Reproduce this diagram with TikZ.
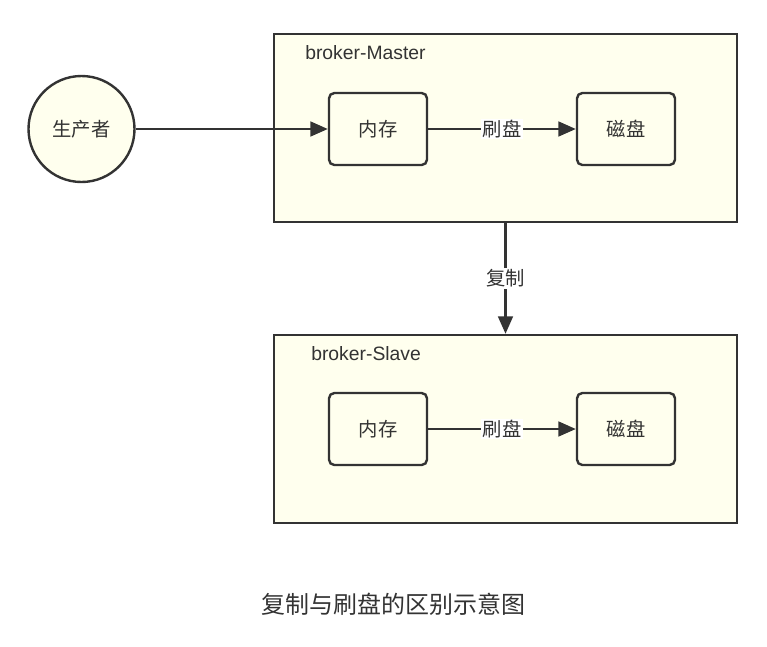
\documentclass[tikz,border=0pt]{standalone}
\usepackage{fontspec}
\setmainfont{Liberation Sans}
\newfontfamily\cjk{Noto Sans CJK SC}
\usetikzlibrary{arrows.meta}
\definecolor{paper}{HTML}{FFFFEE}
\definecolor{ink}{HTML}{333333}

\begin{document}
\begin{tikzpicture}[x=0.75pt, y=-0.75pt,
        box/.style={draw=ink, fill=paper, line width=1.8pt, minimum width=347pt, minimum height=141pt},
        unit/.style={draw=ink, fill=paper, line width=1.8pt, rounded corners=4pt, minimum width=73.5pt, minimum height=54pt, text=ink, font=\cjk\fontsize{14.5}{16}\selectfont},
        title/.style={anchor=west, inner sep=0pt, text=ink, font=\fontsize{14.5}{16}\selectfont},
        flow/.style={draw=ink, line width=1.8pt, -{Triangle[length=13pt,width=11pt]}},
        tag/.style={fill=white, inner sep=1pt, text=ink, font=\cjk\fontsize{14.5}{16}\selectfont}]
    \useasboundingbox (0,0) rectangle (767,646);
    % broker boxes
    \node[box] (master) at (505.5,128) {};
    \node[box] (slave) at (505.5,429) {};
    \node[title] (mtitle) at (305,53) {broker-Master};
    \node[title] (stitle) at (311,354) {broker-Slave};
    % producer
    \node[circle, draw=ink, fill=paper, line width=1.8pt, minimum size=79.5pt, text=ink, font=\cjk\fontsize{14.5}{16}\selectfont] (producer) at (81.5,129) {生产者};
    % memory and disk
    \node[unit] (mmem) at (378,129) {内存};
    \node[unit] (mdisk) at (626,129) {磁盘};
    \node[unit] (smem) at (378,429) {内存};
    \node[unit] (sdisk) at (626,429) {磁盘};
    % connectors
    \draw[flow] (producer) -- (mmem);
    \draw[flow] (mmem) -- node[tag]{刷盘} (mdisk);
    \draw[flow] (smem) -- node[tag]{刷盘} (sdisk);
    \draw[flow] (master) -- node[tag]{复制} (slave);
    \node[text=ink, font=\cjk\fontsize{18}{20}\selectfont] (caption) at (393,604) {复制与刷盘的区别示意图};
\end{tikzpicture}
\end{document}
